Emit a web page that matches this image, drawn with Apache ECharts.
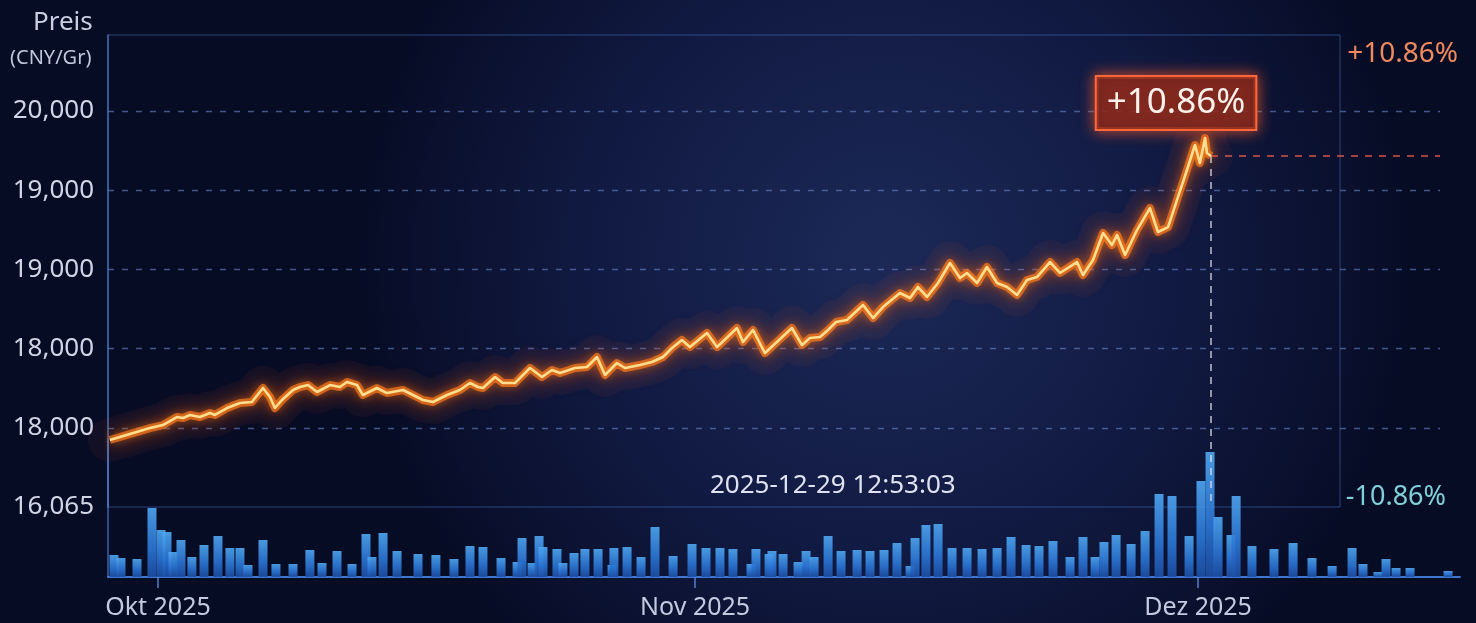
<!DOCTYPE html>
<html>
<head>
<meta charset="utf-8">
<script src="https://cdn.jsdelivr.net/npm/echarts@6/dist/echarts.min.js"></script>
<style>html,body{margin:0;padding:0;background:#0a1030;}#c{width:1476px;height:623px;}</style>
</head>
<body>
<div id="c"></div>
<script>
// ---- data ----
const yTickLabels = ['16,065', '18,000', '18,000', '19,000', '19,000', '20,000'];
const monthLabels = ['Okt 2025', 'Nov 2025', 'Dez 2025'];
const monthTicks = [0, 31.5, 61];           // days from 2025-10-01
const changeUp = '+10.86%';
const changeDown = '-10.86%';
const timestampText = '2025-12-29 12:53:03';
const axisTitle = 'Preis';
const axisUnit = '(CNY/Gr)';

// price path: x in days from 2025-10-01, y in grid levels (0 = 16,065 line, 5 = 20,000 line)
const priceDays = [-2.82,-0.47,0.29,1.11,1.47,1.88,2.46,3.05,3.34,4.05,4.81,5.51,6.16,6.57,6.86,7.27,7.92,8.33,8.80,9.33,
  10.09,10.67,11.09,11.67,12.02,12.84,13.43,14.37,14.96,15.54,16.13,16.95,17.71,18.30,18.77,19.06,19.77,20.23,20.94,21.82,
  22.52,23.11,23.58,24.46,25.16,25.75,26.22,26.92,27.39,28.27,28.97,29.62,30.15,30.73,31.20,32.20,32.79,33.96,34.31,34.90,
  35.60,36.30,37.18,37.77,38.24,38.83,39.30,39.77,40.41,41.35,41.94,42.52,43.52,44.11,44.57,45.10,45.75,46.45,47.04,47.45,
  48.04,48.62,49.21,49.80,50.38,50.97,51.55,52.32,52.90,53.90,54.25,54.84,55.43,55.95,56.25,56.72,57.42,58.18,58.65,59.24,
  59.82,60.35,60.82,61.11,61.41,61.52,61.76];
const priceLevels = [0.846,0.997,1.035,1.136,1.124,1.162,1.136,1.187,1.162,1.25,1.313,1.326,1.503,1.389,1.25,1.351,1.477,1.515,1.540,1.452,
  1.540,1.515,1.578,1.540,1.414,1.503,1.439,1.477,1.414,1.351,1.326,1.414,1.477,1.566,1.515,1.503,1.641,1.566,1.566,1.755,
  1.641,1.730,1.692,1.755,1.768,1.894,1.667,1.818,1.755,1.793,1.831,1.894,2.008,2.109,2.020,2.197,2.020,2.260,2.083,2.235,
  1.944,2.083,2.260,2.045,2.134,2.146,2.235,2.336,2.361,2.551,2.386,2.525,2.702,2.639,2.778,2.652,2.828,3.081,2.891,2.955,
  2.828,3.030,2.828,2.778,2.677,2.866,2.904,3.093,2.955,3.093,2.929,3.119,3.460,3.308,3.434,3.182,3.497,3.775,3.472,3.535,
  3.914,4.255,4.571,4.343,4.659,4.470,4.432];

// volume bars
const volDays = [-2.58,-2.17,-1.23,-0.35,0.18,0.53,0.88,1.35,1.99,2.70,3.52,4.22,4.81,5.28,6.16,6.92,7.92,8.91,9.62,10.50,
  11.38,12.20,12.55,13.20,14.02,15.25,16.30,17.36,18.30,19.06,20.12,21.06,21.35,21.94,22.35,22.58,23.40,23.75,24.40,25.04,
  25.81,26.63,26.74,27.51,28.33,29.15,30.21,31.32,32.14,32.96,33.72,34.78,35.07,35.84,36.01,36.66,37.54,38.01,38.48,39.30,
  40.06,41.00,41.76,42.58,43.34,44.11,44.40,45.04,45.75,46.57,47.45,48.33,49.21,50.03,50.91,51.67,52.49,53.49,54.25,54.96,
  55.48,56.19,57.07,57.89,58.71,59.47,60.47,61.17,61.70,62.17,62.93,63.23,64.16,65.45,66.57,67.68,68.86,70.03,70.67,71.55,
  72.02,72.61,73.43,75.66];
const volValues = [22,19,18,69,47,45,25,37,20,32,41,29,29,12,37,13,13,27,14,26,
  13,43,20,44,26,23,22,18,31,30,19,15,39,14,41,30,28,14,24,28,
  28,12,29,30,20,50,21,33,29,29,28,13,28,23,26,23,15,26,20,41,
  26,27,26,27,34,11,39,52,53,29,29,28,29,40,32,31,36,20,40,20,
  35,42,33,46,83,81,41,96,125,60,42,81,31,28,34,19,11,29,13,5,
  18,9,9,6];

// ---- layout ----
const X_MIN = -2.93;
const PRICE_X_MAX = 75.19;
const VOL_X_MAX = 76.36;
const Y_MAX = 5.96;

const pricePts = priceDays.map((d, i) => [d, priceLevels[i]]);
const volPts = volDays.map((d, i) => [d, volValues[i]]);
let peakIdx = 0;
priceLevels.forEach((v, i) => { if (v > priceLevels[peakIdx]) peakIdx = i; });
const lastIdx = priceDays.length - 1;
const lastPt = pricePts[lastIdx];

const chart = echarts.init(document.getElementById('c'));
const font = 'Noto Sans';
const option = {
  animation: false,
  backgroundColor: {
    type: 'radial', x: 0.6, y: 0.42, r: 0.85,
    colorStops: [
      { offset: 0, color: '#1c2957' },
      { offset: 0.55, color: '#111a42' },
      { offset: 1, color: '#070c25' }
    ]
  },
  textStyle: { fontFamily: font },
  title: [
    { text: axisTitle, left: 28, top: 5,
      textStyle: { color: '#c9cfe0', fontSize: 26, fontWeight: 'normal', fontFamily: font } },
    { text: axisUnit, left: 5, top: 43,
      textStyle: { color: '#c0c7da', fontSize: 20, fontWeight: 'normal', fontFamily: font } },
    { text: changeUp, right: 13, top: 35,
      textStyle: { color: '#f08a5e', fontSize: 28, fontWeight: 'normal', fontFamily: font } },
    { text: changeDown, right: 25, top: 479,
      textStyle: { color: '#7fd0d8', fontSize: 27, fontWeight: 'normal', fontFamily: font } },
    { text: timestampText, left: 705, top: 468,
      textStyle: { color: '#dfe3f1', fontSize: 26, fontWeight: 'normal', fontFamily: font } }
  ],
  grid: [
    { left: 108, right: 36, top: 35, bottom: 116 },
    { left: 108, right: 16, top: 440, bottom: 46 },
    { left: 108, right: 136, top: 35, bottom: 116, show: true, borderColor: 'rgba(75,115,195,0.55)', borderWidth: 1, backgroundColor: 'transparent' }
  ],
  xAxis: [
    { type: 'value', gridIndex: 0, min: X_MIN, max: PRICE_X_MAX, show: false },
    { type: 'value', gridIndex: 1, min: X_MIN, max: VOL_X_MAX,
      axisLine: { show: true, onZero: false, lineStyle: { color: 'rgba(70,130,225,0.9)', width: 2 } },
      axisTick: { show: true, customValues: monthTicks, length: 11, lineStyle: { color: 'rgba(90,140,220,0.9)', width: 1.5 } },
      axisLabel: { show: true, customValues: monthTicks, margin: 18, color: '#c3cadf', fontSize: 25, fontFamily: font,
        formatter: v => { let k = 0; monthTicks.forEach((t, i) => { if (Math.abs(t - v) < Math.abs(monthTicks[k] - v)) k = i; }); return monthLabels[k]; } },
      splitLine: { show: false } },
    { type: 'value', gridIndex: 2, min: 0, max: 1, show: false }
  ],
  yAxis: [
    { type: 'value', gridIndex: 0, min: 0, max: Y_MAX, interval: 1,
      axisLine: { show: true, onZero: false, lineStyle: { color: 'rgba(80,125,205,0.75)', width: 1.5 } },
      axisTick: { show: false },
      axisLabel: { color: '#d0d5e6', fontSize: 26, margin: 14, fontFamily: font, showMaxLabel: false,
        formatter: v => (Math.abs(v - Math.round(v)) < 1e-6 && yTickLabels[Math.round(v)] !== undefined) ? yTickLabels[Math.round(v)] : '' },
      splitLine: { show: true, showMinLine: false, showMaxLine: false,
        lineStyle: { color: 'rgba(115,145,215,0.55)', type: [6, 8], width: 1.3 } } },
    { type: 'value', gridIndex: 1, min: 0, max: 137,
      axisLine: { show: true, onZero: false, lineStyle: { color: 'rgba(80,125,205,0.75)', width: 1.5 } },
      axisTick: { show: false }, axisLabel: { show: false }, splitLine: { show: false } },
    { type: 'value', gridIndex: 2, min: 0, max: 1, show: false }
  ],
  series: [
    { type: 'bar', xAxisIndex: 1, yAxisIndex: 1, data: volPts, barWidth: 9, z: 1,
      itemStyle: { opacity: 0.9,
        color: new echarts.graphic.LinearGradient(0, 0, 0, 1, [
          { offset: 0, color: '#4fa8f3' }, { offset: 0.6, color: '#2b76d6' }, { offset: 1, color: '#1c4fa6' }]) } },
    { type: 'line', xAxisIndex: 0, yAxisIndex: 0, data: pricePts, showSymbol: false, smooth: false, z: 3,
      lineStyle: { width: 44, color: 'rgba(255,105,40,0.05)', join: 'round', cap: 'round' } },
    { type: 'line', xAxisIndex: 0, yAxisIndex: 0, data: pricePts, showSymbol: false, smooth: false, z: 4,
      lineStyle: { width: 8, color: 'rgba(255,118,25,0.7)', shadowColor: 'rgba(255,90,0,0.9)', shadowBlur: 18, join: 'round' } },
    { type: 'line', xAxisIndex: 0, yAxisIndex: 0, data: pricePts, showSymbol: false, smooth: false, z: 5,
      lineStyle: { width: 2.6, color: '#ffdf8f', shadowColor: '#ff8a1e', shadowBlur: 8, join: 'round' },
      markLine: { symbol: 'none', silent: true, label: { show: false }, animation: false,
        data: [
          [{ coord: lastPt, lineStyle: { color: 'rgba(235,90,75,0.9)', type: [7, 7], width: 1.5 } }, { coord: [PRICE_X_MAX, lastPt[1]] }],
          [{ coord: lastPt, lineStyle: { color: 'rgba(225,225,235,0.85)', type: [7, 6], width: 1.5 } }, { coord: [lastPt[0], 0] }]
        ] },
      markPoint: { symbol: 'circle', symbolSize: 1, silent: true, itemStyle: { color: 'rgba(0,0,0,0)' },
        data: [{ coord: pricePts[peakIdx],
          label: { show: true, formatter: changeUp, position: 'inside', offset: [-29, -35],
            color: '#fbf1ec', fontSize: 35, fontFamily: font, lineHeight: 40, padding: [6, 10],
            backgroundColor: 'rgba(115,30,24,0.72)', borderColor: '#ff6b3d', borderWidth: 2,
            shadowColor: 'rgba(255,90,40,0.85)', shadowBlur: 14 } }] } }
  ]
};
chart.setOption(option);
</script>
</body>
</html>
